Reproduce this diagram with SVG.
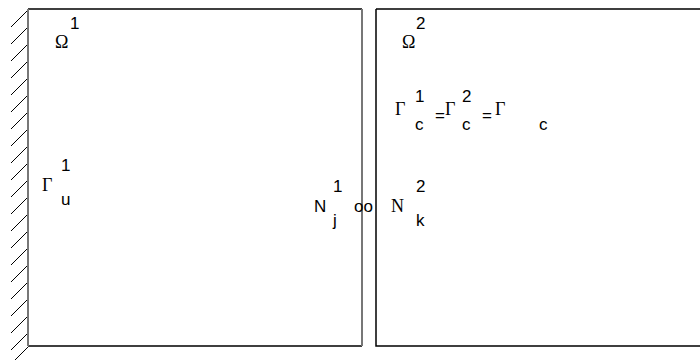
<svg xmlns="http://www.w3.org/2000/svg" width="700" height="360" viewBox="0 0 700 360">
<style>
.s{font-family:"Liberation Sans",Arial,sans-serif;font-size:17px;fill:#000}
.r{font-family:"Liberation Serif","Times New Roman",serif;font-size:18px;fill:#000}
.bk{stroke:#000;stroke-width:1.5;fill:none}
.gr{stroke:#777;stroke-width:2;fill:none}
.h{stroke:#000;stroke-width:1;fill:none}
</style>
<rect width="700" height="360" fill="#fff"/>
<g id="wall">
<path class="h" d="M28,10 l-17,17 M28,27 l-17,17 M28,44 l-17,17 M28,61 l-17,17 M28,78 l-17,17 M28,95 l-17,17 M28,112 l-17,17 M28,129 l-17,17 M28,146 l-17,17 M28,163 l-17,17 M28,180 l-17,17 M28,197 l-17,17 M28,214 l-17,17 M28,231 l-17,17 M28,248 l-17,17 M28,265 l-17,17 M28,282 l-17,17 M28,299 l-17,17 M28,316 l-17,17 M28,333 l-17,17 M28,347 l-17,17"/>
</g>
<g id="omega1">
<path class="bk" d="M28,9 H362 M28,346 H362"/>
<path class="gr" d="M28,9 V346 M362,9 V346"/>
<text class="r" x="55" y="48">Ω</text>
<text class="s" x="70" y="29">1</text>
<text class="r" x="42" y="191">Γ</text>
<text class="s" x="61" y="171">1</text>
<text class="s" x="61" y="205">u</text>
<text class="s" x="314" y="212">N</text>
<text class="s" x="333" y="192">1</text>
<text class="s" x="333" y="226">j</text>
</g>
<g id="omega2">
<path class="bk" d="M376,9 H700 M376,9 V346 H700"/>
<text class="r" x="402" y="48">Ω</text>
<text class="s" x="416" y="29">2</text>
<text class="r" x="395" y="115">Γ</text>
<text class="s" x="415" y="102">1</text>
<text class="s" x="415" y="130">c</text>
<text class="s" x="435" y="121">=</text>
<text class="r" x="445" y="115">Γ</text>
<text class="s" x="462" y="102">2</text>
<text class="s" x="462" y="130">c</text>
<text class="s" x="482" y="121">=</text>
<text class="r" x="495" y="115">Γ</text>
<text class="s" x="539" y="130">c</text>
<text class="r" x="391" y="212">N</text>
<text class="s" x="416" y="192">2</text>
<text class="s" x="416" y="226">k</text>
</g>
<g id="connectors">
<text class="s" x="354" y="212">oo</text>
</g>
</svg>
